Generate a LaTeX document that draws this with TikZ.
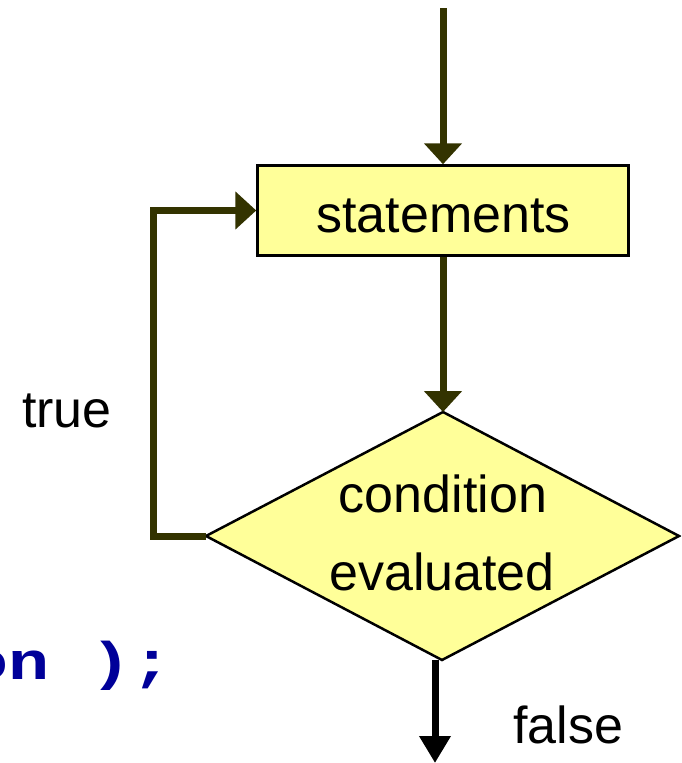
\documentclass[tikz,border=0pt]{standalone}
\usepackage{fontspec}
\setmainfont{Liberation Sans}
\newfontfamily\codefont{Liberation Mono}
\usetikzlibrary{arrows.meta}
\definecolor{flowc}{HTML}{333300}
\definecolor{boxfill}{HTML}{FFFF99}
\definecolor{codeblue}{HTML}{000099}
\begin{document}
\begin{tikzpicture}[x=1pt,y=-1pt,
  flow/.style={draw=flowc, line width=7pt, line join=miter, -{Triangle[width=37pt,length=21pt]}},
  exitflow/.style={draw=black, line width=7pt, -{Triangle[width=30pt,length=27pt]}},
  shapeline/.style={draw=black, line width=2.5pt, fill=boxfill},
  lbl/.style={inner sep=0pt, font=\fontsize{52}{62}\selectfont, anchor=base},
  codetxt/.style={inner sep=0pt, font=\codefont\bfseries\fontsize{53}{60}\selectfont, text=codeblue, anchor=base west, xscale=1.29}]
\useasboundingbox (0,0) rectangle (681,763);
\clip (0,0) rectangle (681,763);
% statements box
\node[shapeline, minimum width=371pt, minimum height=90pt, inner sep=0pt] (s) at (443,210.5) {};
\node[lbl] (stxt) at (443.5,232) {statements};
% diamond
\coordinate (dt) at (443,412);
\coordinate (dl) at (206,536);
\coordinate (dr) at (679,536);
\coordinate (db) at (442,660);
\draw[shapeline, line join=miter] (dt) -- (dr) -- (db) -- (dl) -- cycle;
\node[lbl] (c1) at (443,512) {condition};
\node[lbl] (c2) at (442,590) {evaluated};
% connectors
\coordinate (top) at (443,8);
\draw[flow] (top) -- (s.north);
\draw[flow] (s.south) -- (dt);
\draw[flow] (dl) -- ++(-53,0) |- (s.west);
\coordinate (fend) at (435,763);
\draw[exitflow] (db -| fend) -- (fend);
% labels
\node[lbl, anchor=base west] (ltrue) at (22,427) {true};
\node[lbl, anchor=base west] (lfalse) at (513,743) {false};
\node[codetxt] (code) at (-33,679) {on );};
\end{tikzpicture}
\end{document}
